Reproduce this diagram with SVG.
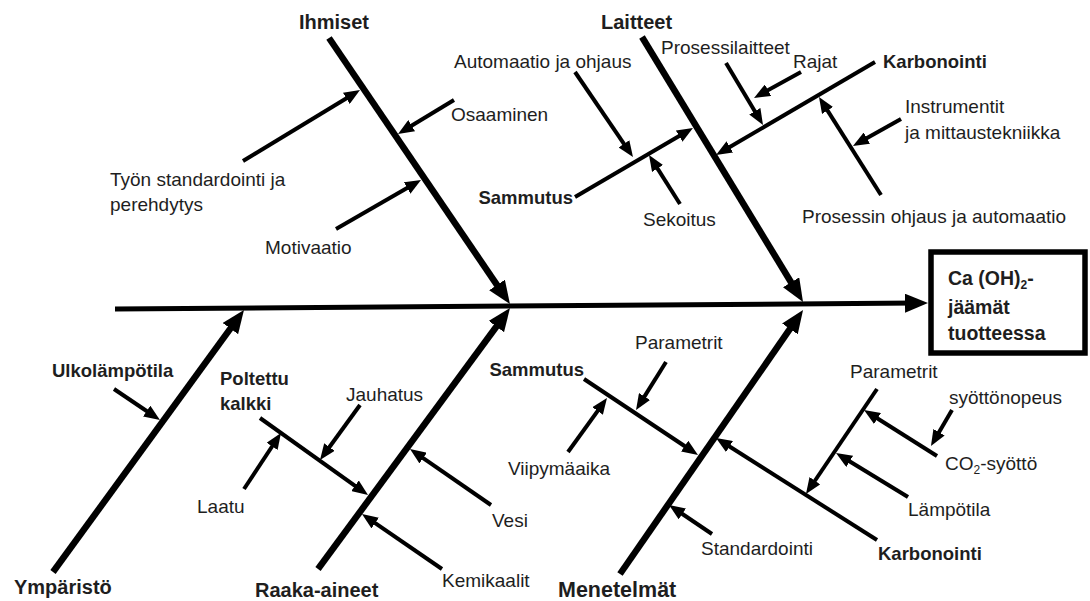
<svg xmlns="http://www.w3.org/2000/svg" width="1090" height="601" viewBox="0 0 1090 601">
  <style>
    text { font-family: "Liberation Sans", Arial, sans-serif; fill: #1e1e1e; }
    .lbl { font-size: 19px; }
    .sub { font-size: 18.5px; font-weight: bold; }
    .cat { font-size: 20px; font-weight: bold; }
    .cat-wide { font-size: 21.5px; }
    .eff { font-size: 19.5px; font-weight: bold; }
    .spine { stroke: #000; stroke-width: 5; fill: none; marker-end: url(#headBig); }
    .bone { stroke: #000; stroke-width: 6.5; fill: none; marker-end: url(#headBig); }
    .rib { stroke: #000; stroke-width: 4; fill: none; marker-end: url(#headSmall); }
  </style>
  <defs>
    <marker id="headBig" viewBox="0 0 23 19" refX="11" refY="9.5" markerWidth="23" markerHeight="19" markerUnits="userSpaceOnUse" orient="auto">
      <path d="M0,0 L23,9.5 L0,19 z" fill="#000"/>
    </marker>
    <marker id="headSmall" viewBox="0 0 16 13" refX="7" refY="6.5" markerWidth="16" markerHeight="13" markerUnits="userSpaceOnUse" orient="auto">
      <path d="M0,0 L16,6.5 L0,13 z" fill="#000"/>
    </marker>
  </defs>
  <rect width="1090" height="601" fill="#fff"/>

  <!-- connectors: spine, main bones and ribs -->
  <g id="connectors">
    <line class="spine" x1="115" y1="309" x2="916" y2="303.1"/>
    <!-- main bones -->
    <line class="bone" x1="329" y1="38" x2="503.2" y2="294.1"/>
    <line class="bone" x1="642" y1="37" x2="796.8" y2="291.7"/>
    <line class="bone" x1="53" y1="572" x2="236.9" y2="319.7"/>
    <line class="bone" x1="318" y1="569" x2="502.9" y2="317.7"/>
    <line class="bone" x1="620" y1="574" x2="796.2" y2="319.9"/>
    <!-- Ihmiset ribs -->
    <line class="rib" x1="243" y1="161" x2="352.3" y2="94.7"/>
    <line class="rib" x1="454" y1="100" x2="405.7" y2="129.3"/>
    <line class="rib" x1="336" y1="229" x2="413.2" y2="184.5"/>
    <!-- Laitteet ribs -->
    <line class="rib" x1="575" y1="197" x2="685.2" y2="132.5"/>
    <line class="rib" x1="575" y1="72" x2="627.9" y2="149.6"/>
    <line class="rib" x1="680" y1="204" x2="653.8" y2="162.6"/>
    <line class="rib" x1="875" y1="62" x2="723.8" y2="150.5"/>
    <line class="rib" x1="726" y1="63" x2="758.4" y2="117.3"/>
    <line class="rib" x1="801" y1="72" x2="761.9" y2="93.6"/>
    <line class="rib" x1="881" y1="195" x2="823.8" y2="104.6"/>
    <line class="rib" x1="901" y1="119" x2="860.8" y2="141.6"/>
    <!-- Ympäristö rib -->
    <line class="rib" x1="114" y1="389" x2="152.5" y2="415"/>
    <!-- Raaka-aineet ribs -->
    <line class="rib" x1="260" y1="418" x2="360.7" y2="489.8"/>
    <line class="rib" x1="360" y1="405" x2="325.3" y2="452.7"/>
    <line class="rib" x1="244" y1="489" x2="276" y2="440.5"/>
    <line class="rib" x1="491" y1="505" x2="417.4" y2="454.1"/>
    <line class="rib" x1="442" y1="569" x2="369.4" y2="519.1"/>
    <!-- Menetelmät ribs -->
    <line class="rib" x1="584" y1="379" x2="690.5" y2="450"/>
    <line class="rib" x1="666" y1="362" x2="640.8" y2="402.4"/>
    <line class="rib" x1="568" y1="452" x2="601.7" y2="405.3"/>
    <line class="rib" x1="877" y1="540" x2="723.6" y2="442.8"/>
    <line class="rib" x1="712" y1="534" x2="676.5" y2="510"/>
    <line class="rib" x1="877" y1="389" x2="811" y2="486.5"/>
    <line class="rib" x1="937" y1="456" x2="871.6" y2="414.8"/>
    <line class="rib" x1="952" y1="410" x2="935.5" y2="438.2"/>
    <line class="rib" x1="908" y1="497" x2="843.7" y2="457.7"/>
  </g>

  <!-- effect box -->
  <g id="effect">
    <rect x="931" y="252" width="154" height="101" fill="#fff" stroke="#000" stroke-width="5.5"/>
    <text class="eff" x="948" y="285">Ca (OH)<tspan font-size="12" dy="4">2</tspan><tspan dy="-4">-</tspan></text>
    <text class="eff" x="948" y="314">jäämät</text>
    <text class="eff" x="948" y="340">tuotteessa</text>
  </g>

  <!-- category labels -->
  <g id="cat-ihmiset"><text class="cat" x="299" y="29">Ihmiset</text></g>
  <g id="cat-laitteet"><text class="cat" x="601" y="29">Laitteet</text></g>
  <g id="cat-ymparisto"><text class="cat" x="14" y="594">Ympäristö</text></g>
  <g id="cat-raaka-aineet"><text class="cat" x="255" y="597">Raaka-aineet</text></g>
  <g id="cat-menetelmat"><text class="cat cat-wide" x="558" y="597">Menetelmät</text></g>

  <!-- Ihmiset causes -->
  <g id="tyon-standardointi">
    <text class="lbl" x="110" y="186">Työn standardointi ja</text>
    <text class="lbl" x="110" y="211">perehdytys</text>
  </g>
  <g id="osaaminen"><text class="lbl" x="451" y="121">Osaaminen</text></g>
  <g id="motivaatio"><text class="lbl" x="265" y="254">Motivaatio</text></g>

  <!-- Laitteet causes -->
  <g id="automaatio"><text class="lbl" x="454" y="68">Automaatio ja ohjaus</text></g>
  <g id="sammutus-top"><text class="sub" x="573" y="204" text-anchor="end">Sammutus</text></g>
  <g id="sekoitus"><text class="lbl" x="643" y="226">Sekoitus</text></g>
  <g id="prosessilaitteet"><text class="lbl" x="661" y="54">Prosessilaitteet</text></g>
  <g id="rajat"><text class="lbl" x="793" y="68">Rajat</text></g>
  <g id="karbonointi-top"><text class="sub" x="883" y="68">Karbonointi</text></g>
  <g id="instrumentit">
    <text class="lbl" x="905" y="113">Instrumentit</text>
    <text class="lbl" x="905" y="139">ja mittaustekniikka</text>
  </g>
  <g id="prosessin-ohjaus"><text class="lbl" x="802" y="223">Prosessin ohjaus ja automaatio</text></g>

  <!-- Ympäristö causes -->
  <g id="ulkolampotila"><text class="sub" x="52" y="377">Ulkolämpötila</text></g>

  <!-- Raaka-aineet causes -->
  <g id="poltettu-kalkki">
    <text class="sub" x="220" y="385">Poltettu</text>
    <text class="sub" x="220" y="410">kalkki</text>
  </g>
  <g id="jauhatus"><text class="lbl" x="346" y="401">Jauhatus</text></g>
  <g id="laatu"><text class="lbl" x="197" y="513">Laatu</text></g>
  <g id="vesi"><text class="lbl" x="492" y="527">Vesi</text></g>
  <g id="kemikaalit"><text class="lbl" x="442" y="587">Kemikaalit</text></g>

  <!-- Menetelmät causes -->
  <g id="sammutus-bottom"><text class="sub" x="584" y="376" text-anchor="end">Sammutus</text></g>
  <g id="parametrit-left"><text class="lbl" x="635" y="349">Parametrit</text></g>
  <g id="viipymaaika"><text class="lbl" x="610" y="475" text-anchor="end">Viipymäaika</text></g>
  <g id="standardointi"><text class="lbl" x="701" y="555">Standardointi</text></g>
  <g id="karbonointi-bottom"><text class="sub" x="878" y="560">Karbonointi</text></g>
  <g id="parametrit-right"><text class="lbl" x="850" y="378">Parametrit</text></g>
  <g id="syottonopeus"><text class="lbl" x="949" y="404">syöttönopeus</text></g>
  <g id="co2-syotto"><text class="lbl" x="945" y="470">CO<tspan font-size="12" dy="4">2</tspan><tspan dy="-4">-syöttö</tspan></text></g>
  <g id="lampotila"><text class="lbl" x="908" y="516">Lämpötila</text></g>
</svg>
